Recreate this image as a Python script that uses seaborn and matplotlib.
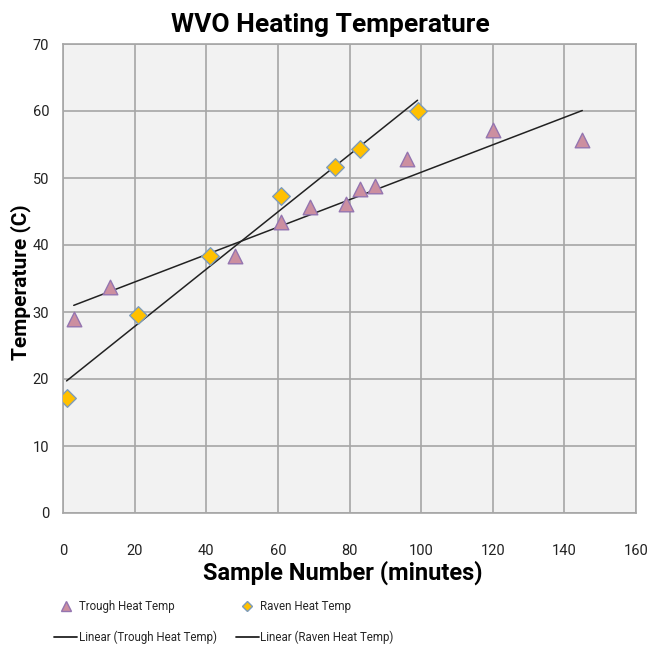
import numpy as np
import pandas as pd
import matplotlib
matplotlib.use("Agg")
import matplotlib.pyplot as plt
from matplotlib.lines import Line2D
import seaborn as sns

trough_x = [3, 13, 48, 61, 69, 79, 83, 87, 96, 120, 145]
trough_y = [28.9, 33.8, 38.3, 43.4, 45.6, 46.1, 48.3, 48.8, 52.8, 57.2, 55.6]
raven_x = [1, 21, 41, 61, 76, 83, 99]
raven_y = [17.2, 29.5, 38.3, 47.3, 51.6, 54.4, 60.0]

x_ticks = [0, 20, 40, 60, 80, 100, 120, 140, 160]
y_ticks = [0, 10, 20, 30, 40, 50, 60, 70]

title = "WVO Heating Temperature"
xlabel = "Sample Number (minutes)"
ylabel = "Temperature (C)"

sns.set_style("white")
fam = ["Roboto", "DejaVu Sans"]
plt.rcParams["font.family"] = fam

trough = pd.DataFrame({"x": trough_x, "y": trough_y})
raven = pd.DataFrame({"x": raven_x, "y": raven_y})

fig = plt.figure(figsize=(6.57, 6.48), dpi=100)
ax = fig.add_axes([63 / 657, 1 - 513 / 648, (636 - 63) / 657, (513 - 44) / 648])
ax.set_facecolor("#f2f2f2")

tri_face = "#cc8fa0"
tri_edge = "#9475b0"
dia_face = "#ffc000"
dia_edge = "#7d9cbc"

sns.regplot(data=trough, x="x", y="y", scatter=False, ci=None, truncate=True,
            ax=ax, line_kws=dict(color="#222222", lw=1.1))
sns.regplot(data=raven, x="x", y="y", scatter=False, ci=None, truncate=True,
            ax=ax, line_kws=dict(color="#222222", lw=1.1))
sns.scatterplot(data=trough, x="x", y="y", marker="^", s=110, color=tri_face,
                edgecolor=tri_edge, linewidth=1.0, ax=ax, zorder=3)
sns.scatterplot(data=raven, x="x", y="y", marker="D", s=80, color=dia_face,
                edgecolor=dia_edge, linewidth=1.0, ax=ax, zorder=3)

ax.set_xlim(0, 160)
ax.set_ylim(0, 70)
ax.set_xticks(x_ticks)
ax.set_yticks(y_ticks)
ax.grid(True, color="#a6a6a6", lw=1.2)
ax.set_axisbelow(True)
for s in ax.spines.values():
    s.set_color("#a6a6a6")
    s.set_linewidth(1.2)
ax.tick_params(axis="x", length=0, pad=22, labelsize=10.5, labelcolor="#222222")
ax.tick_params(axis="y", length=0, pad=10, labelsize=10.5, labelcolor="#222222")
ax.set_xlabel("")
ax.set_ylabel("")

fig.text(330 / 657, 1 - 25 / 648, title, ha="center", va="center",
         fontsize=19, fontweight="bold", family=fam, color="black")
fig.text(343 / 657, 1 - 573 / 648, xlabel, ha="center", va="center",
         fontsize=17, fontweight="bold", family=fam, color="black")
fig.text(21 / 657, 1 - 282 / 648, ylabel, ha="center", va="center",
         rotation=90, fontsize=15, fontweight="bold", family=fam, color="black")

handles = [
    Line2D([], [], ls="none", marker="^", ms=7, mfc=tri_face, mec=tri_edge),
    Line2D([], [], color="#222222", lw=1.3),
    Line2D([], [], ls="none", marker="D", ms=5.5, mfc=dia_face, mec=dia_edge),
    Line2D([], [], color="#222222", lw=1.3),
]
labels = ["Trough Heat Temp", "Linear (Trough Heat Temp)",
          "Raven Heat Temp", "Linear (Raven Heat Temp)"]
fig.legend(handles, labels, ncol=2, loc="center left",
           bbox_to_anchor=(44 / 657, 1 - 622 / 648), frameon=False,
           fontsize=8.3, handlelength=2.0, handletextpad=0.15,
           columnspacing=1.6, labelspacing=1.45)

fig.savefig("out.png", dpi=100)
